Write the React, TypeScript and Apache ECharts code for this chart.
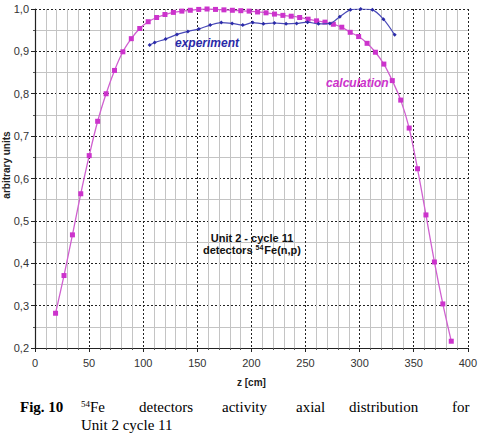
import React, { useEffect, useRef } from "react";
import * as echarts from "echarts";

// Axial position (cm) and relative activity, calculated profile
const calcZ = [19, 26.8, 34.6, 42.3, 50.1, 57.9, 65.7, 73.5, 81.2, 89, 96.8, 104.6, 112.4, 120.1, 127.9, 135.7, 143.5, 151.3, 159, 166.8, 174.6, 182.4, 190.2, 197.9, 205.7, 213.5, 221.3, 229.1, 236.8, 244.6, 252.4, 260.2, 268, 275.7, 283.5, 291.3, 299.1, 306.9, 314.6, 322.4, 330.2, 338, 345.8, 353.5, 361.3, 369.1, 376.9, 384.7];
const calcV = [0.282, 0.371, 0.467, 0.564, 0.654, 0.735, 0.8, 0.855, 0.899, 0.93, 0.954, 0.97, 0.98, 0.987, 0.992, 0.995, 0.997, 0.999, 1.0, 0.999, 0.998, 0.997, 0.996, 0.995, 0.993, 0.991, 0.988, 0.985, 0.983, 0.98, 0.976, 0.972, 0.969, 0.964, 0.957, 0.945, 0.935, 0.919, 0.898, 0.87, 0.831, 0.785, 0.719, 0.623, 0.514, 0.403, 0.304, 0.216];

// Measured detector activities
const expZ = [106, 110.6, 120.7, 131.2, 141.3, 151.4, 161.9, 172.1, 182.2, 192, 201.2, 211.1, 221.2, 232, 241.8, 251.9, 262, 272.5, 281.7, 291.5, 301, 311.8, 322, 332.4];
const expV = [0.915, 0.921, 0.929, 0.94, 0.947, 0.953, 0.962, 0.968, 0.966, 0.962, 0.968, 0.965, 0.967, 0.965, 0.966, 0.969, 0.965, 0.966, 0.982, 0.998, 1.0, 0.998, 0.976, 0.939];

const xTicks = { min: 0, max: 400, interval: 50 };
const yTicks = { min: 0.2, max: 1.0, interval: 0.1 };

const MAGENTA = "#cc33cc";
const BLUE = "#2a2aa8";

export default function App() {
  const ref = useRef<HTMLDivElement>(null);

  useEffect(() => {
    if (!ref.current) return;
    const chart = echarts.init(ref.current, undefined, { renderer: "svg" });
    const majorLine = { show: true, lineStyle: { color: "#222", width: 1, type: [2, 2] as any } };
    const minorLine = { show: true, lineStyle: { color: "#c4c4c4", width: 1 } };
    const sans = "Liberation Sans, Arial, sans-serif";
    const serif = "Liberation Serif, Times New Roman, serif";

    chart.setOption({
      animation: false,
      backgroundColor: "#ffffff",
      grid: { left: 35, top: 9, width: 434, height: 339, containLabel: false },
      xAxis: {
        type: "value",
        min: xTicks.min,
        max: xTicks.max,
        interval: xTicks.interval,
        axisLine: { show: true, onZero: false, lineStyle: { color: "#222", width: 1.2 } },
        axisTick: { show: true, inside: false, length: 4, lineStyle: { color: "#222" } },
        minorTick: { show: true, splitNumber: 5, length: 2, lineStyle: { color: "#555" } },
        splitLine: majorLine,
        minorSplitLine: minorLine,
        axisLabel: { color: "#333", fontSize: 11, fontFamily: sans, margin: 9 },
        name: "z [cm]",
        nameLocation: "middle",
        nameGap: 29,
        nameTextStyle: { color: "#222", fontSize: 10, fontWeight: "bold", fontFamily: sans },
      },
      yAxis: {
        type: "value",
        min: yTicks.min,
        max: yTicks.max,
        interval: yTicks.interval,
        axisLine: { show: true, onZero: false, lineStyle: { color: "#222", width: 1.2 } },
        axisTick: { show: true, inside: false, length: 4, lineStyle: { color: "#222" } },
        minorTick: { show: true, splitNumber: 2, length: 2, lineStyle: { color: "#555" } },
        splitLine: majorLine,
        minorSplitLine: minorLine,
        axisLabel: {
          color: "#333",
          fontSize: 11,
          fontFamily: sans,
          margin: 6,
          formatter: (v: number) => v.toFixed(1).replace(".", ","),
        },
      },
      series: [
        {
          name: "calculation",
          type: "line",
          data: calcZ.map((z, i) => [z, calcV[i]]),
          smooth: 0.3,
          symbol: "rect",
          symbolSize: 5,
          itemStyle: { color: MAGENTA },
          lineStyle: { color: "#d060d0", width: 1.3 },
          z: 3,
        },
        {
          name: "experiment",
          type: "line",
          data: expZ.map((z, i) => [z, expV[i]]),
          smooth: 0.3,
          symbol: "diamond",
          symbolSize: 4,
          itemStyle: { color: BLUE },
          lineStyle: { color: "#4a4ab8", width: 1.2 },
          z: 4,
        },
      ],
      graphic: [
        {
          type: "text",
          x: 6,
          y: 165,
          rotation: Math.PI / 2,
          style: { text: "arbitrary units", font: `bold 10px ${sans}`, fill: "#222", align: "center", verticalAlign: "middle" },
        },
        {
          type: "text",
          x: 175,
          y: 43,
          style: { text: "experiment", font: `italic bold 12px ${sans}`, fill: BLUE, verticalAlign: "middle" },
          z: 10,
        },
        {
          type: "text",
          x: 326,
          y: 83,
          style: { text: "calculation", font: `italic bold 12px ${sans}`, fill: MAGENTA, verticalAlign: "middle" },
          z: 10,
        },
        {
          type: "text",
          x: 252,
          y: 238,
          style: { text: "Unit 2 - cycle 11", font: `bold 11px ${sans}`, fill: "#111", align: "center", verticalAlign: "middle" },
          z: 10,
        },
        {
          type: "text",
          x: 252,
          y: 250,
          style: {
            text: "detectors {sup|54}Fe(n,p)",
            font: `bold 11px ${sans}`,
            fill: "#111",
            align: "center",
            verticalAlign: "middle",
            rich: { sup: { fontSize: 7, fontWeight: "bold", fontFamily: sans, fill: "#111", verticalAlign: "top", padding: [0, 1, 5, 0] } },
          },
          z: 10,
        },
        // figure caption, justified across the page
        { type: "text", x: 20, y: 407, style: { text: "Fig. 10", font: `bold 15px ${serif}`, fill: "#000", verticalAlign: "middle" } },
        {
          type: "text",
          x: 81,
          y: 407,
          style: {
            text: "{sup|54}Fe",
            font: `15px ${serif}`,
            fill: "#000",
            verticalAlign: "middle",
            rich: { sup: { fontSize: 9, fontFamily: serif, fill: "#000", padding: [0, 0, 7, 0] } },
          },
        },
        { type: "text", x: 139, y: 407, style: { text: "detectors", font: `15px ${serif}`, fill: "#000", verticalAlign: "middle" } },
        { type: "text", x: 222, y: 407, style: { text: "activity", font: `15px ${serif}`, fill: "#000", verticalAlign: "middle" } },
        { type: "text", x: 296, y: 407, style: { text: "axial", font: `15px ${serif}`, fill: "#000", verticalAlign: "middle" } },
        { type: "text", x: 349, y: 407, style: { text: "distribution", font: `15px ${serif}`, fill: "#000", verticalAlign: "middle" } },
        { type: "text", x: 452, y: 407, style: { text: "for", font: `15px ${serif}`, fill: "#000", verticalAlign: "middle" } },
        { type: "text", x: 81, y: 425, style: { text: "Unit 2 cycle 11", font: `15px ${serif}`, fill: "#000", verticalAlign: "middle" } },
      ],
    });
    return () => chart.dispose();
  }, []);

  return <div ref={ref} style={{ position: "fixed", left: 0, top: 0, width: 480, height: 434 }} />;
}
